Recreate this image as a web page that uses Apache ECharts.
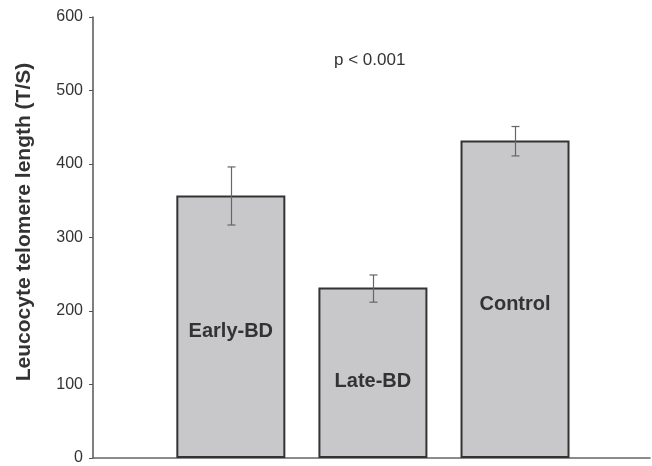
<!DOCTYPE html>
<html>
<head>
<meta charset="utf-8">
<script src="https://cdn.jsdelivr.net/npm/echarts@6/dist/echarts.min.js"></script>
<style>html,body{margin:0;padding:0;background:#fff}#c{width:652px;height:466px}</style>
</head>
<body>
<div id="c"></div>
<script>
var categories = ['Early-BD', 'Late-BD', 'Control'];
var means = [357, 232, 432];
var errLow = [317, 212, 411];
var errHigh = [396, 249, 451];
var yTicks = [0, 100, 200, 300, 400, 500, 600];
var yAxisTitle = 'Leucocyte telomere length (T/S)';
var annotation = 'p < 0.001';

var labelDist = [117, 67, 144];
var FONT = '"Liberation Sans", Arial, sans-serif';

var barData = means.map(function (v, i) {
  return {
    value: [i + 1, v],
    label: {
      show: true,
      position: 'insideBottom',
      distance: labelDist[i],
      formatter: categories[i],
      fontFamily: FONT,
      fontWeight: 'bold',
      fontSize: 20,
      color: '#333'
    }
  };
});
var errData = means.map(function (v, i) { return [i + 1, errLow[i], errHigh[i]]; });

var chart = echarts.init(document.getElementById('c'), null, { renderer: 'canvas' });
chart.setOption({
  animation: false,
  backgroundColor: '#fff',
  grid: { left: 93, right: 2, top: 17, bottom: 5 },
  xAxis: {
    type: 'value',
    min: 0.03,
    max: 3.95,
    splitLine: { show: false },
    axisLabel: { show: false },
    axisTick: { show: false },
    axisLine: { show: true, onZero: false, lineStyle: { color: '#666', width: 1.5 } }
  },
  yAxis: {
    type: 'value',
    min: yTicks[0],
    max: yTicks[yTicks.length - 1],
    interval: 100,
    splitLine: { show: false },
    axisLine: { show: true, lineStyle: { color: '#555', width: 1.5 } },
    axisTick: { show: true, length: 4, lineStyle: { color: '#555', width: 1 } },
    axisLabel: { fontFamily: FONT, fontSize: 16, color: '#333', margin: 10 }
  },
  graphic: [
    {
      type: 'text',
      left: 370 - 36, top: 52,
      style: { text: annotation, font: '17px ' + FONT, fill: '#333' }
    },
    {
      type: 'text',
      x: 14, y: 222,
      rotation: Math.PI / 2,
      style: {
        text: yAxisTitle,
        font: 'bold 21px ' + FONT,
        fill: '#333',
        align: 'center',
        verticalAlign: 'top'
      }
    }
  ],
  series: [
    {
      type: 'bar',
      barWidth: 109,
      data: barData,
      itemStyle: { color: '#c8c8ca', borderColor: '#333', borderWidth: 2 },
      z: 2
    },
    {
      type: 'custom',
      z: 3,
      data: errData,
      renderItem: function (params, api) {
        var x = api.value(0);
        var lo = api.coord([x, api.value(1)]);
        var hi = api.coord([x, api.value(2)]);
        var cx = Math.round(lo[0]) + 0.5;
        var hw = 4;
        var st = { stroke: '#666', lineWidth: 1.2 };
        return {
          type: 'group',
          children: [
            { type: 'line', shape: { x1: cx, y1: hi[1], x2: cx, y2: lo[1] }, style: st },
            { type: 'line', shape: { x1: cx - hw, y1: hi[1], x2: cx + hw, y2: hi[1] }, style: st },
            { type: 'line', shape: { x1: cx - hw, y1: lo[1], x2: cx + hw, y2: lo[1] }, style: st }
          ]
        };
      }
    }
  ]
});
</script>
</body>
</html>
